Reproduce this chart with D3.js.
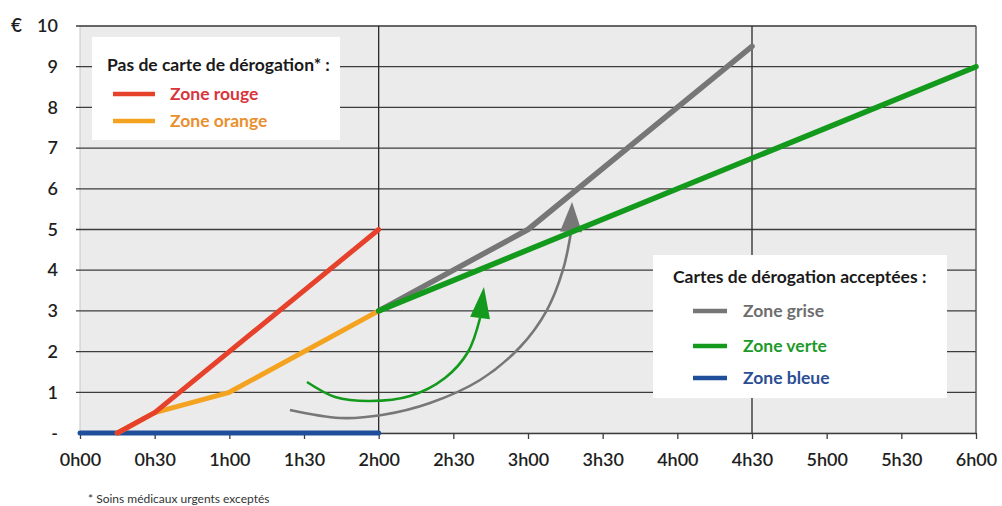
<!DOCTYPE html>
<html>
<head>
<meta charset="utf-8">
<script src="https://cdn.jsdelivr.net/npm/d3@7"></script>
<style>
  body { margin: 0; background: #fff; }
  svg { display: block; font-family: Lato, "Open Sans", sans-serif; }
</style>
</head>
<body>
<svg id="chart" width="1002" height="506"></svg>
<script>
// Parking cost (€) by duration, per zone
const xTickValues = [0, 0.5, 1, 1.5, 2, 2.5, 3, 3.5, 4, 4.5, 5, 5.5, 6];
const xTickLabels = ["0h00", "0h30", "1h00", "1h30", "2h00", "2h30", "3h00", "3h30", "4h00", "4h30", "5h00", "5h30", "6h00"];
const yTickValues = [0, 1, 2, 3, 4, 5, 6, 7, 8, 9, 10];
const yTickLabels = ["-", "1", "2", "3", "4", "5", "6", "7", "8", "9", "10"];

// durations (hours) and prices (€)
const redHours = [0.25, 0.5, 2];
const redPrice = [0, 0.5, 5];
const orangeHours = [0.25, 0.5, 1, 2];
const orangePrice = [0, 0.5, 1, 3];
const blueHours = [0, 2];
const bluePrice = [0, 0];
const greyHours = [2, 3, 4.5];
const greyPrice = [3, 5, 9.5];
const greenHours = [2, 6];
const greenPrice = [3, 9];

// curved arrows (hours, €) : path points then arrow tip
const greenArrowHours = [1.52, 1.708, 1.942, 2.21, 2.444, 2.598, 2.679];
const greenArrowPrice = [1.253, 0.885, 0.786, 0.909, 1.351, 1.99, 2.826];
const greenArrowTip = [2.705, 3.587];
const greyArrowHours = [1.406, 1.741, 2.022, 2.344, 2.679, 2.947, 3.127, 3.234, 3.288];
const greyArrowPrice = [0.565, 0.369, 0.442, 0.737, 1.302, 2.113, 3.022, 4.005, 4.939];
const greyArrowTip = [3.295, 5.676];

const C = {
  red: "#e6412b", orange: "#f4a320", grey: "#767676", green: "#139a1c", blue: "#1f4f9b",
  redText: "#d8353d", orangeText: "#ea8f2e", greyText: "#6e6e6e", greenText: "#1e9a2a", blueText: "#2b4f94"
};

const svg = d3.select("#chart");
const x = d3.scaleLinear().domain([0, 6]).range([80, 976]);
const y = d3.scaleLinear().domain([0, 10]).range([433, 26]);

// plot background
svg.append("rect")
  .attr("x", x(0)).attr("y", y(10))
  .attr("width", x(6) - x(0)).attr("height", y(0) - y(10))
  .attr("fill", "#ebebeb").attr("stroke", "#c8c8c8").attr("stroke-width", 1);

// horizontal grid
svg.append("g").selectAll("line")
  .data(yTickValues.filter(v => v > 0))
  .join("line")
  .attr("x1", x(0) - 4).attr("x2", x(6))
  .attr("y1", d => y(d)).attr("y2", d => y(d))
  .attr("stroke", "#3c3c3c").attr("stroke-width", 1.3);

// vertical separators at 2h00 and 4h30
svg.append("g").selectAll("line")
  .data([2, 4.5])
  .join("line")
  .attr("x1", d => x(d)).attr("x2", d => x(d))
  .attr("y1", y(10)).attr("y2", y(0))
  .attr("stroke", "#2a2a2a").attr("stroke-width", 1.3);
svg.append("line")
  .attr("x1", x(6)).attr("x2", x(6)).attr("y1", y(10)).attr("y2", y(0))
  .attr("stroke", "#555").attr("stroke-width", 1.3);

// x axis
const xAxis = d3.axisBottom(x)
  .tickValues(xTickValues)
  .tickFormat((d, i) => xTickLabels[i])
  .tickSize(6).tickSizeOuter(0).tickPadding(14);
const gx = svg.append("g").attr("transform", `translate(0,${y(0)})`).call(xAxis);
gx.select(".domain").attr("stroke", "#3c3c3c").attr("stroke-width", 1.3);
gx.selectAll(".tick line").attr("stroke", "#3c3c3c").attr("stroke-width", 1.3);
gx.selectAll("text")
  .attr("font-family", "Lato, sans-serif").attr("font-size", 18).attr("font-weight", 600)
  .attr("fill", "#1e1e1e");

// y labels
const yAxis = d3.axisLeft(y)
  .tickValues(yTickValues)
  .tickFormat((d, i) => yTickLabels[i])
  .tickSize(0).tickPadding(22);
const gy = svg.append("g").attr("transform", `translate(${x(0)},0)`).call(yAxis);
gy.select(".domain").remove();
gy.selectAll("text")
  .attr("font-family", "Lato, sans-serif").attr("font-size", 18).attr("font-weight", 600)
  .attr("fill", "#1e1e1e");
svg.append("text")
  .attr("x", 11).attr("y", y(10)).attr("dy", "0.32em")
  .attr("font-size", 19).attr("font-weight", 600).attr("fill", "#1e1e1e")
  .text("€");

// legend boxes
function legend(box, title, items) {
  const g = svg.append("g");
  g.append("rect")
    .attr("x", box.x).attr("y", box.y).attr("width", box.w).attr("height", box.h)
    .attr("fill", "#fff");
  g.append("text")
    .attr("x", box.tx).attr("y", box.ty)
    .attr("font-size", 17.5).attr("font-weight", 700).attr("fill", "#1a1a1a")
    .text(title);
  items.forEach((it, i) => {
    const yy = box.rows[i];
    g.append("line")
      .attr("x1", box.lx1).attr("x2", box.lx2).attr("y1", yy).attr("y2", yy)
      .attr("stroke", it.color).attr("stroke-width", 4.5);
    g.append("text")
      .attr("x", box.txtX).attr("y", yy).attr("dy", "0.35em")
      .attr("font-size", 17.5).attr("font-weight", 700).attr("fill", it.text)
      .text(it.label);
  });
}

// curved arrows (drawn beneath the price lines)
const curve = d3.line().x(d => x(d[0])).y(d => y(d[1])).curve(d3.curveCatmullRom.alpha(0.5));
function arrow(hours, price, tip, color, width, headW) {
  const pts = hours.map((h, i) => [h, price[i]]);
  svg.append("path").attr("d", curve(pts))
    .attr("fill", "none").attr("stroke", color).attr("stroke-width", width);
  const base = pts[pts.length - 1];
  const bx = x(base[0]), by = y(base[1]), tx = x(tip[0]), ty = y(tip[1]);
  const dx = tx - bx, dy = ty - by, len = Math.hypot(dx, dy);
  const nx = -dy / len, ny = dx / len;
  svg.append("path")
    .attr("d", `M${tx},${ty}L${bx + nx * headW},${by + ny * headW}L${bx - nx * headW},${by - ny * headW}Z`)
    .attr("fill", color);
}
arrow(greyArrowHours, greyArrowPrice, greyArrowTip, "#777", 2.6, 11);
arrow(greenArrowHours, greenArrowPrice, greenArrowTip, C.green, 2.6, 10);

// price lines
const line = d3.line().x(d => x(d[0])).y(d => y(d[1]));
function series(hours, price, color, w) {
  svg.append("path")
    .attr("d", line(hours.map((h, i) => [h, price[i]])))
    .attr("fill", "none").attr("stroke", color).attr("stroke-width", w)
    .attr("stroke-linejoin", "round").attr("stroke-linecap", "round");
}
series(blueHours, bluePrice, C.blue, 5);
series(orangeHours, orangePrice, C.orange, 5);
series(redHours, redPrice, C.red, 5);
series(greyHours, greyPrice, C.grey, 5.5);
series(greenHours, greenPrice, C.green, 5.5);

legend(
  { x: 92, y: 37, w: 248, h: 103, tx: 107, ty: 71, rows: [94, 121], lx1: 113, lx2: 155, txtX: 170 },
  "Pas de carte de dérogation* :",
  [
    { label: "Zone rouge", color: C.red, text: C.redText },
    { label: "Zone orange", color: C.orange, text: C.orangeText }
  ]
);
legend(
  { x: 653, y: 255, w: 294, h: 143, tx: 673, ty: 283, rows: [311, 346, 378], lx1: 693, lx2: 727, txtX: 743 },
  "Cartes de dérogation acceptées :",
  [
    { label: "Zone grise", color: C.grey, text: C.greyText },
    { label: "Zone verte", color: C.green, text: C.greenText },
    { label: "Zone bleue", color: C.blue, text: C.blueText }
  ]
);

// footnote
svg.append("text")
  .attr("x", 88).attr("y", 503)
  .attr("font-size", 12).attr("fill", "#333")
  .text("* Soins médicaux urgents exceptés");
</script>
</body>
</html>
